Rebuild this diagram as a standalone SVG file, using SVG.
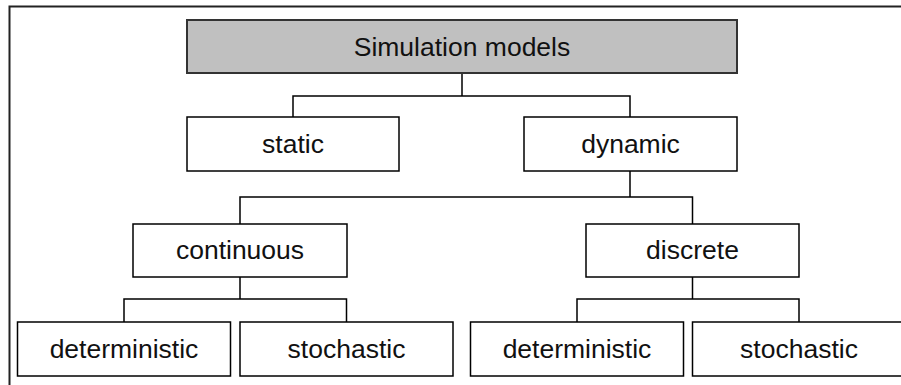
<svg xmlns="http://www.w3.org/2000/svg" width="901" height="385" viewBox="0 0 901 385">
  <style>
    .box { fill: #ffffff; stroke: #000000; stroke-width: 1.5; }
    .root { fill: #c0c0c0; stroke: #333333; stroke-width: 2; }
    .label { font-family: "Liberation Sans", Arial, sans-serif; font-size: 26.5px; fill: #111111; text-anchor: middle; }
    .link { fill: none; stroke: #000000; stroke-width: 1.5; }
    .frame { fill: none; stroke: #222222; stroke-width: 2; }
  </style>
  <rect width="901" height="385" fill="#ffffff"/>
  <!-- outer frame -->
  <path class="frame" d="M9.5,385 V6.5 H901"/>

  <g id="connectors">
    <path class="link" d="M462,73 V96 M293,117 V96 H630 V117"/>
    <path class="link" d="M630,171 V197 M240,224 V197 H692.5 V224"/>
    <path class="link" d="M240,277 V299 M124,322 V299 H346.5 V322"/>
    <path class="link" d="M692.5,277 V299 M577,322 V299 H799 V322"/>
  </g>

  <g id="simulation-models">
    <rect class="root" x="187" y="20" width="550" height="53"/>
    <text class="label" x="462" y="56">Simulation models</text>
  </g>
  <g id="static">
    <rect class="box" x="187" y="117" width="212" height="54"/>
    <text class="label" x="293" y="153">static</text>
  </g>
  <g id="dynamic">
    <rect class="box" x="524" y="117" width="213" height="54"/>
    <text class="label" x="630.5" y="153">dynamic</text>
  </g>
  <g id="continuous">
    <rect class="box" x="133" y="224" width="214" height="53"/>
    <text class="label" x="240" y="259">continuous</text>
  </g>
  <g id="discrete">
    <rect class="box" x="586" y="224" width="213" height="53"/>
    <text class="label" x="692.5" y="259">discrete</text>
  </g>
  <g id="deterministic-continuous">
    <rect class="box" x="17.5" y="322" width="213" height="54"/>
    <text class="label" x="124" y="358">deterministic</text>
  </g>
  <g id="stochastic-continuous">
    <rect class="box" x="240" y="322" width="213" height="54"/>
    <text class="label" x="346.5" y="358">stochastic</text>
  </g>
  <g id="deterministic-discrete">
    <rect class="box" x="470.5" y="322" width="213" height="54"/>
    <text class="label" x="577" y="358">deterministic</text>
  </g>
  <g id="stochastic-discrete">
    <rect class="box" x="692.5" y="322" width="213" height="54"/>
    <text class="label" x="799" y="358">stochastic</text>
  </g>
</svg>
